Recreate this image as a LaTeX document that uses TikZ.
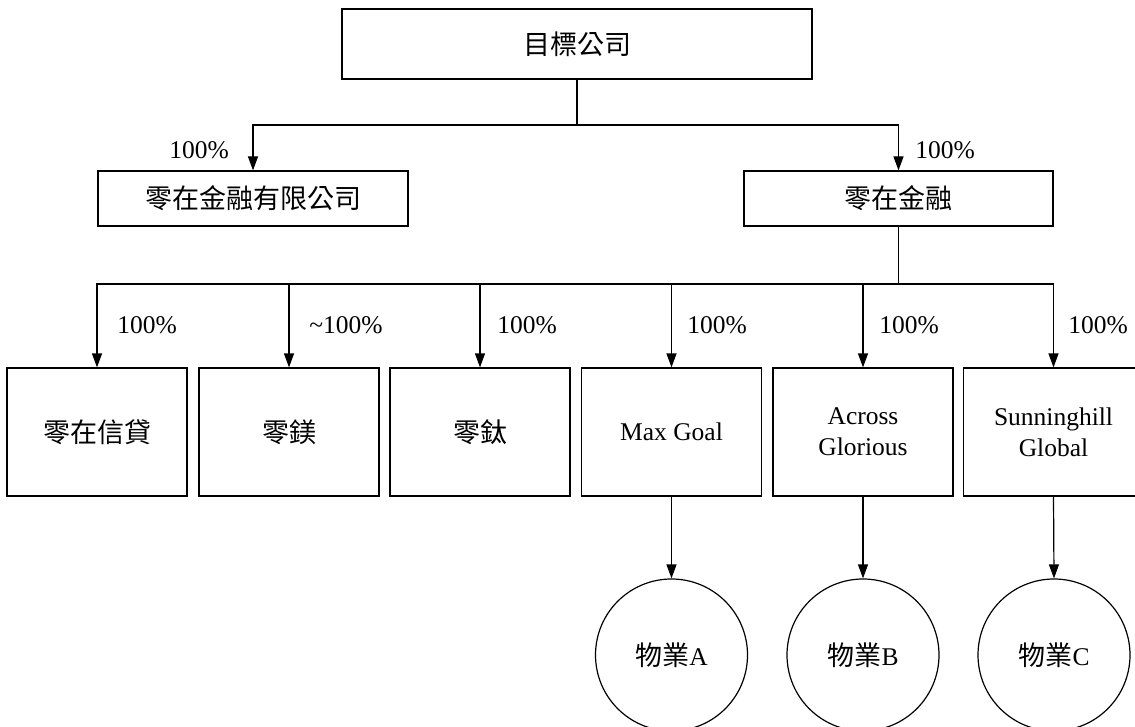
\documentclass[tikz,border=0pt]{standalone}
\usepackage{fontspec}
\setmainfont{Liberation Serif}
\newfontfamily\cjkf{Noto Sans CJK TC}
\newcommand{\cjk}{\cjkf\fontsize{27}{31}\selectfont}
\usetikzlibrary{arrows.meta}
\begin{document}
\begin{tikzpicture}[x=1pt,y=-1pt,
  every node/.style={font=\fontsize{25.5}{31}\selectfont},
  box/.style={draw,line width=1.2pt,inner sep=0pt,align=center},
  rowbox/.style={box,minimum width=180pt,minimum height=128pt},
  prop/.style={draw,circle,line width=1.2pt,minimum size=152pt,inner sep=0pt},
  conn/.style={line width=1.2pt},
  arr/.style={conn,-{Triangle[length=14pt,width=10pt]}},
  pct/.style={inner sep=0pt}]
\clip (0,0) rectangle (1135,727);
\useasboundingbox (0,0) rectangle (1135,727);
\node[box,minimum width=470pt,minimum height=70pt] (top) at (577,44) {\cjk 目標公司};
\node[box,minimum width=310pt,minimum height=55pt] (l1) at (253,198.5) {\cjk 零在金融有限公司};
\node[box,minimum width=309pt,minimum height=55pt] (r1) at (898.5,198.5) {\cjk 零在金融};
\coordinate (j1) at (577,125);
\draw[conn] (top.south) -- (j1);
\draw[arr] (j1) -| (l1.north);
\draw[arr] (j1) -| (r1.north);
\node[pct] (p1) at (199,150) {100\%};
\node[pct] (p2) at (945,150) {100\%};
\node[rowbox] (b1) at (97,432) {\cjk 零在信貸};
\node[rowbox] (b2) at (289,432) {\cjk 零鎂};
\node[rowbox] (b3) at (480,432) {\cjk 零鈦};
\node[rowbox] (b4) at (671.5,432) {Max Goal};
\node[rowbox] (b5) at (863,432) {Across\\Glorious};
\node[rowbox] (b6) at (1053.5,432) {Sunninghill\\Global};
\coordinate (j2) at (898.5,284);
\draw[conn] (r1.south) -- (j2);
\foreach \b in {b1,b2,b3,b4,b5,b6}{\draw[arr] (j2) -| (\b.north);}
\node[pct] (q1) at (147,325) {100\%};
\node[pct] (q2) at (346,325) {\textasciitilde100\%};
\node[pct] (q3) at (527,325) {100\%};
\node[pct] (q4) at (717,325) {100\%};
\node[pct] (q5) at (909,325) {100\%};
\node[pct] (q6) at (1098,325) {100\%};
\node[prop] (ca) at (671.5,655) {{\cjk 物業}A};
\node[prop] (cb) at (863,655) {{\cjk 物業}B};
\node[prop] (cc) at (1054,655) {{\cjk 物業}C};
\draw[arr] (b4.south) -- (ca.north);
\draw[arr] (b5.south) -- (cb.north);
\draw[arr] (b6.south) -- (cc.north);
\end{tikzpicture}
\end{document}
